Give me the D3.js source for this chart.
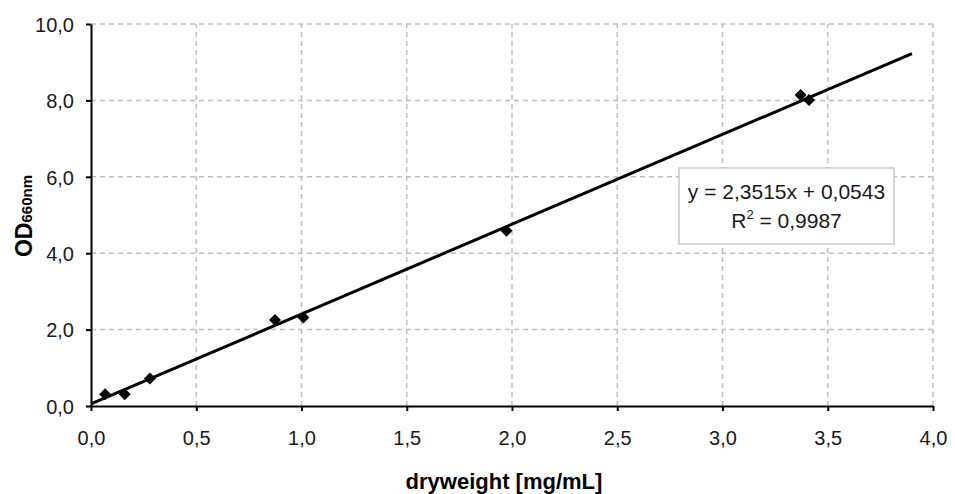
<!DOCTYPE html>
<html><head><meta charset="utf-8">
<script src="https://cdn.jsdelivr.net/npm/d3@7"></script>
<style>body{margin:0;background:#fff}svg{display:block}text{font-family:"Liberation Sans",Arial,sans-serif}</style>
</head><body><svg id="c" width="955" height="494"></svg>
<script>
const dryweight = [0.067, 0.16, 0.28, 0.874, 1.009, 1.974, 3.371, 3.411];
const od660 = [0.31, 0.31, 0.72, 2.25, 2.32, 4.59, 8.14, 8.01];
const slope = 2.3515, intercept = 0.0543;
const trendRange = [0, 3.9];
const xTicks = [0, 0.5, 1, 1.5, 2, 2.5, 3, 3.5, 4];
const yTicks = [0, 2, 4, 6, 8, 10];
const eqLines = ["y = 2,3515x + 0,0543", "R² = 0,9987"];

const svg = d3.select("#c");
const x = d3.scaleLinear().domain([0, 4]).range([91, 933]);
const y = d3.scaleLinear().domain([0, 10]).range([406, 24]);
const fmt = d => d3.format(".1f")(d).replace(".", ",");

// grid
svg.append("g").selectAll("line").data(xTicks.slice(1)).join("line")
  .attr("x1", d => x(d)).attr("x2", d => x(d)).attr("y1", y(0)).attr("y2", y(10))
  .attr("stroke", "#c0c0c0").attr("stroke-width", 1.5).attr("stroke-dasharray", "5,4");
svg.append("g").selectAll("line").data(yTicks.slice(1)).join("line")
  .attr("x1", x(0)).attr("x2", x(4)).attr("y1", d => y(d)).attr("y2", d => y(d))
  .attr("stroke", "#c0c0c0").attr("stroke-width", 1.5).attr("stroke-dasharray", "5,4");

// axes
const xAxis = svg.append("g").attr("transform", `translate(0,${y(0)})`)
  .call(d3.axisBottom(x).tickValues(xTicks).tickFormat(fmt).tickSize(5).tickSizeOuter(0));
const yAxis = svg.append("g").attr("transform", `translate(${x(0)},0)`)
  .call(d3.axisLeft(y).tickValues(yTicks).tickFormat(fmt).tickSize(5).tickSizeOuter(0));
[xAxis, yAxis].forEach(a => {
  a.select(".domain").attr("stroke", "#000").attr("stroke-width", 2);
  a.selectAll(".tick line").attr("stroke", "#000").attr("stroke-width", 2);
  a.selectAll(".tick text").attr("fill", "#1a1a1a").attr("font-size", 20)
    .attr("font-family", "Liberation Sans, Arial, sans-serif");
});
xAxis.selectAll(".tick text").attr("dy", null).attr("y", 39);
yAxis.selectAll(".tick text").attr("x", -17).attr("dy", "0.36em");

// trend line
svg.append("line")
  .attr("x1", x(trendRange[0])).attr("y1", y(slope * trendRange[0] + intercept))
  .attr("x2", x(trendRange[1])).attr("y2", y(slope * trendRange[1] + intercept))
  .attr("stroke", "#000").attr("stroke-width", 3);

// points
const diamond = d3.symbol().type(d3.symbolSquare).size(72);
svg.append("g").selectAll("path").data(dryweight).join("path")
  .attr("d", diamond())
  .attr("transform", (d, i) => `translate(${x(d)},${y(od660[i])}) rotate(45)`)
  .attr("fill", "#000");

// equation box
const bx = 679, by = 168, bw = 215, bh = 76;
svg.append("rect").attr("x", bx).attr("y", by).attr("width", bw).attr("height", bh)
  .attr("fill", "#fff").attr("stroke", "#c8c8c8").attr("stroke-width", 1.5);
const eq = svg.append("g").attr("font-size", 21).attr("fill", "#1a1a1a").attr("text-anchor", "middle");
eq.append("text").attr("x", bx + bw / 2).attr("y", by + 31).text(eqLines[0]);
const t2 = eq.append("text").attr("x", bx + bw / 2).attr("y", by + 60);
t2.append("tspan").text("R");
t2.append("tspan").attr("font-size", 13).attr("dy", -9).text("2");
t2.append("tspan").attr("dy", 9).text(" = 0,9987");

// axis titles
svg.append("text").attr("x", 504).attr("y", 489).attr("text-anchor", "middle")
  .attr("font-weight", "bold").attr("font-size", 22).attr("fill", "#000").text("dryweight [mg/mL]");
const yt = svg.append("text").attr("transform", "translate(32,216) rotate(-90)")
  .attr("text-anchor", "middle").attr("font-weight", "bold").attr("fill", "#000").attr("font-size", 23);
yt.append("tspan").text("OD");
yt.append("tspan").attr("font-size", 15).attr("dy", 0).text("660nm");
</script></body></html>
